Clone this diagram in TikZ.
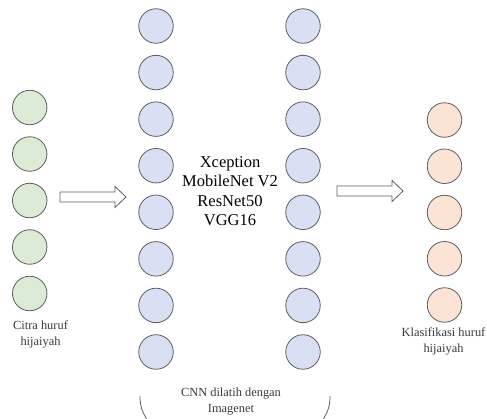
\documentclass[tikz,border=0pt]{standalone}
\usepackage{fontspec}
\setmainfont{Liberation Serif}
\definecolor{ringgray}{HTML}{5E5E5E}
\definecolor{inputfill}{HTML}{DCEBD5}
\definecolor{hiddenfill}{HTML}{D9E0F4}
\definecolor{outputfill}{HTML}{FBE4D5}
\definecolor{labelgray}{HTML}{3A3A3A}
\begin{document}
\begin{tikzpicture}[x=1pt,y=-1pt,
  neuron/.style={circle,draw=ringgray,line width=0.8pt,minimum size=34.5pt,inner sep=0pt},
  inneuron/.style={neuron,fill=inputfill},
  hidneuron/.style={neuron,fill=hiddenfill},
  outneuron/.style={neuron,fill=outputfill},
  caption/.style={align=center,text=labelgray,font=\fontsize{12.4}{16}\selectfont,inner sep=0pt},
  modeltext/.style={align=center,font=\fontsize{16.5}{19.5}\selectfont,inner sep=0pt},
  blockarrow/.style={draw=ringgray,line width=0.8pt,fill=white,line join=miter},
  bracket/.style={draw=ringgray,line width=0.8pt}]
\useasboundingbox (0,0) rectangle (487,418);

% input layer
\foreach \i in {0,...,4}
  \node[inneuron] (in\i) at (29.7,{107.5+46.5*\i}) {};
\node[caption] (citra) at (40.5,334) {Citra huruf\\hijaiyah};

% CNN backbone columns
\foreach \i in {0,...,7} {
  \node[hidneuron] (hl\i) at (156,{26+46.57*\i}) {};
  \node[hidneuron] (hr\i) at (303,{26+46.57*\i}) {};
}
\node[modeltext] (models) at (230,191) {Xception\\MobileNet V2\\ResNet50\\VGG16};
\node[caption] (cnn) at (231,402) {CNN dilatih dengan\\Imagenet};
\draw[bracket] (140,396) .. controls (140,406) and (142,412) .. (148,421);
\draw[bracket] (330,396) .. controls (330,406) and (328,412) .. (322,421);

% output layer
\foreach \i in {0,...,4}
  \node[outneuron] (out\i) at (444.5,{120+46.25*\i}) {};
\node[caption] (klas) at (443.5,341) {Klasifikasi huruf\\hijaiyah};

% hollow block arrows
\draw[blockarrow] (60,192) -- (115,192) -- (115,186.5) -- (126,197) -- (115,207.5) -- (115,202) -- (60,202) -- cycle;
\draw[blockarrow] (337,186) -- (392,186) -- (392,180.5) -- (403,191) -- (392,201.5) -- (392,196) -- (337,196) -- cycle;
\end{tikzpicture}
\end{document}
